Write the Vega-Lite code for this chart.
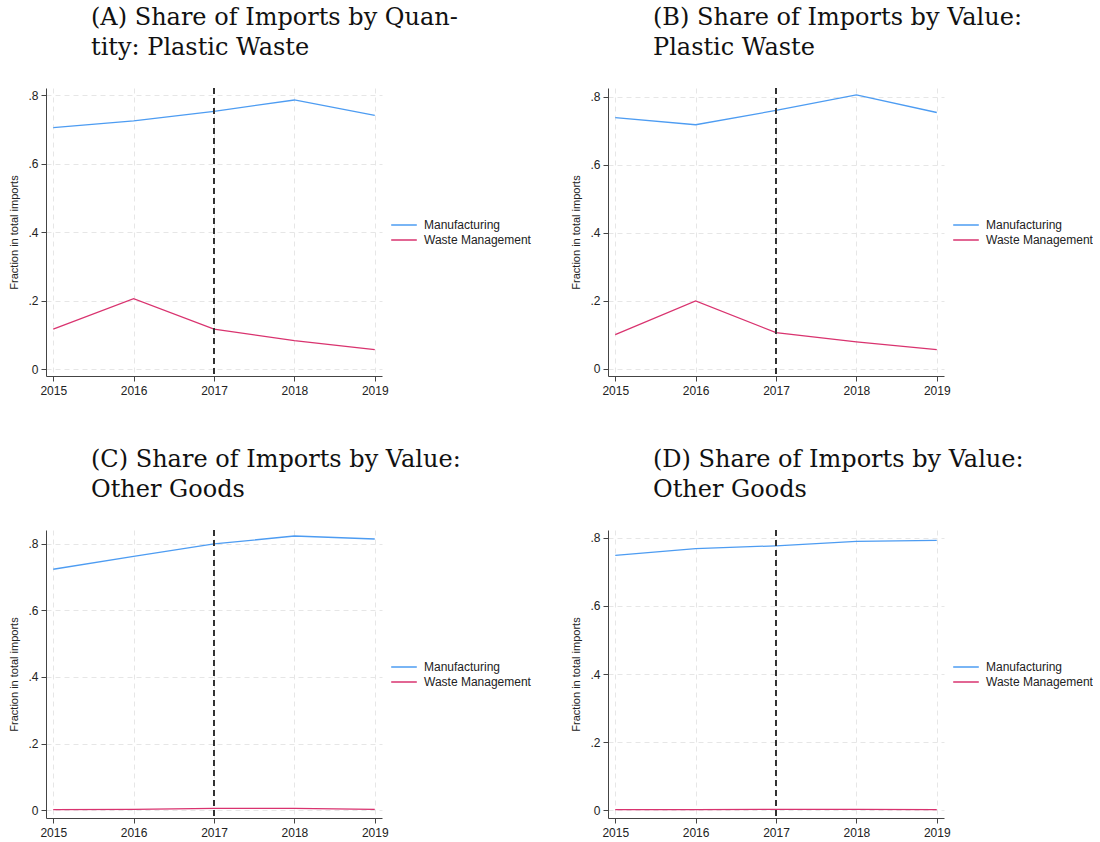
{
  "$schema": "https://vega.github.io/schema/vega-lite/v6.json",
  "background": "white",
  "padding": {"left": 8, "top": 6, "right": 0, "bottom": 0},
  "datasets": {
    "shares": [
      {"panel": "A", "year": 2015, "series": "Manufacturing", "value": 0.705},
      {"panel": "A", "year": 2016, "series": "Manufacturing", "value": 0.725},
      {"panel": "A", "year": 2017, "series": "Manufacturing", "value": 0.753},
      {"panel": "A", "year": 2018, "series": "Manufacturing", "value": 0.786},
      {"panel": "A", "year": 2019, "series": "Manufacturing", "value": 0.741},
      {"panel": "A", "year": 2015, "series": "Waste Management", "value": 0.117},
      {"panel": "A", "year": 2016, "series": "Waste Management", "value": 0.206},
      {"panel": "A", "year": 2017, "series": "Waste Management", "value": 0.117},
      {"panel": "A", "year": 2018, "series": "Waste Management", "value": 0.083},
      {"panel": "A", "year": 2019, "series": "Waste Management", "value": 0.057},
      {"panel": "B", "year": 2015, "series": "Manufacturing", "value": 0.739},
      {"panel": "B", "year": 2016, "series": "Manufacturing", "value": 0.718},
      {"panel": "B", "year": 2017, "series": "Manufacturing", "value": 0.760},
      {"panel": "B", "year": 2018, "series": "Manufacturing", "value": 0.806},
      {"panel": "B", "year": 2019, "series": "Manufacturing", "value": 0.754},
      {"panel": "B", "year": 2015, "series": "Waste Management", "value": 0.101},
      {"panel": "B", "year": 2016, "series": "Waste Management", "value": 0.200},
      {"panel": "B", "year": 2017, "series": "Waste Management", "value": 0.107},
      {"panel": "B", "year": 2018, "series": "Waste Management", "value": 0.080},
      {"panel": "B", "year": 2019, "series": "Waste Management", "value": 0.057},
      {"panel": "C", "year": 2015, "series": "Manufacturing", "value": 0.724},
      {"panel": "C", "year": 2016, "series": "Manufacturing", "value": 0.763},
      {"panel": "C", "year": 2017, "series": "Manufacturing", "value": 0.800},
      {"panel": "C", "year": 2018, "series": "Manufacturing", "value": 0.824},
      {"panel": "C", "year": 2019, "series": "Manufacturing", "value": 0.815},
      {"panel": "C", "year": 2015, "series": "Waste Management", "value": 0.001},
      {"panel": "C", "year": 2016, "series": "Waste Management", "value": 0.002},
      {"panel": "C", "year": 2017, "series": "Waste Management", "value": 0.005},
      {"panel": "C", "year": 2018, "series": "Waste Management", "value": 0.005},
      {"panel": "C", "year": 2019, "series": "Waste Management", "value": 0.002},
      {"panel": "D", "year": 2015, "series": "Manufacturing", "value": 0.749},
      {"panel": "D", "year": 2016, "series": "Manufacturing", "value": 0.769},
      {"panel": "D", "year": 2017, "series": "Manufacturing", "value": 0.777},
      {"panel": "D", "year": 2018, "series": "Manufacturing", "value": 0.790},
      {"panel": "D", "year": 2019, "series": "Manufacturing", "value": 0.793},
      {"panel": "D", "year": 2015, "series": "Waste Management", "value": 0.001},
      {"panel": "D", "year": 2016, "series": "Waste Management", "value": 0.001},
      {"panel": "D", "year": 2017, "series": "Waste Management", "value": 0.002},
      {"panel": "D", "year": 2018, "series": "Waste Management", "value": 0.002},
      {"panel": "D", "year": 2019, "series": "Waste Management", "value": 0.001}
    ]
  },
  "columns": 2,
  "spacing": {"row": 52, "column": 39},
  "resolve": {
    "scale": {"color": "independent", "x": "independent", "y": "independent"},
    "axis": {"x": "independent", "y": "independent"},
    "legend": {"color": "independent"}
  },
  "config": {
    "view": {"stroke": null},
    "font": "Liberation Sans",
    "axis": {
      "grid": true,
      "gridColor": "#e6e6e6",
      "gridDash": [5, 4],
      "domainColor": "#444444",
      "tickColor": "#444444",
      "tickSize": 5,
      "labelFont": "Liberation Sans",
      "labelFontSize": 12,
      "labelColor": "#222222",
      "titleFont": "Liberation Sans",
      "titleFontSize": 11,
      "titleFontWeight": "normal",
      "titleColor": "#222222"
    },
    "axisY": {"labelPadding": 3, "titlePadding": 8},
    "axisX": {"labelPadding": 4},
    "title": {
      "font": "DejaVu Serif",
      "fontSize": 24,
      "fontWeight": "normal",
      "color": "#111111",
      "anchor": "start",
      "frame": "group",
      "dx": 45,
      "offset": 27,
      "lineHeight": 30
    },
    "legend": {
      "symbolType": "M-1.6,0H1.6",
      "symbolSize": 256,
      "symbolStrokeWidth": 1.5,
      "labelFont": "Liberation Sans",
      "labelFontSize": 12,
      "labelColor": "#222222",
      "labelOffset": 11,
      "rowPadding": 0
    }
  },
  "concat": [
    {
      "width": 336, "height": 288,
      "title": {"text": ["(A) Share of Imports by Quan-", "tity: Plastic Waste"]},
      "data": {"name": "shares"},
      "transform": [{"filter": "datum.panel == 'A'"}],
      "layer": [
        {
          "mark": {"type": "line", "strokeWidth": 1.3},
          "encoding": {
            "x": {"field": "year", "type": "quantitative", "scale": {"domain": [2014.91, 2019.09], "nice": false, "zero": false}, "axis": {"values": [2015, 2016, 2017, 2018, 2019], "format": "d", "title": null}},
            "y": {"field": "value", "type": "quantitative", "scale": {"domain": [-0.02, 0.821], "nice": false, "zero": false}, "axis": {"values": [0, 0.2, 0.4, 0.6, 0.8], "labelExpr": "datum.value == 0 ? '0' : replace(format(datum.value, '.1f'), '0.', '.')", "title": "Fraction in total imports"}},
            "color": {"field": "series", "type": "nominal", "scale": {"domain": ["Manufacturing", "Waste Management"], "range": ["#4d9cf2", "#d9336f"]}, "legend": {"orient": "none", "legendX": 349, "legendY": 128, "title": null}}
          }
        },
        {
          "mark": {"type": "rule", "color": "#333333", "strokeDash": [6, 4], "strokeWidth": 1.2},
          "encoding": {"x": {"datum": 2017}}
        }
      ]
    },
    {
      "width": 336, "height": 288,
      "title": {"text": ["(B) Share of Imports by Value:", "Plastic Waste"]},
      "data": {"name": "shares"},
      "transform": [{"filter": "datum.panel == 'B'"}],
      "layer": [
        {
          "mark": {"type": "line", "strokeWidth": 1.3},
          "encoding": {
            "x": {"field": "year", "type": "quantitative", "scale": {"domain": [2014.91, 2019.09], "nice": false, "zero": false}, "axis": {"values": [2015, 2016, 2017, 2018, 2019], "format": "d", "title": null}},
            "y": {"field": "value", "type": "quantitative", "scale": {"domain": [-0.0206, 0.826], "nice": false, "zero": false}, "axis": {"values": [0, 0.2, 0.4, 0.6, 0.8], "labelExpr": "datum.value == 0 ? '0' : replace(format(datum.value, '.1f'), '0.', '.')", "title": "Fraction in total imports"}},
            "color": {"field": "series", "type": "nominal", "scale": {"domain": ["Manufacturing", "Waste Management"], "range": ["#4d9cf2", "#d9336f"]}, "legend": {"orient": "none", "legendX": 349, "legendY": 128, "title": null}}
          }
        },
        {
          "mark": {"type": "rule", "color": "#333333", "strokeDash": [6, 4], "strokeWidth": 1.2},
          "encoding": {"x": {"datum": 2017}}
        }
      ]
    },
    {
      "width": 336, "height": 288,
      "title": {"text": ["(C) Share of Imports by Value:", "Other Goods"]},
      "data": {"name": "shares"},
      "transform": [{"filter": "datum.panel == 'C'"}],
      "layer": [
        {
          "mark": {"type": "line", "strokeWidth": 1.3},
          "encoding": {
            "x": {"field": "year", "type": "quantitative", "scale": {"domain": [2014.91, 2019.09], "nice": false, "zero": false}, "axis": {"values": [2015, 2016, 2017, 2018, 2019], "format": "d", "title": null}},
            "y": {"field": "value", "type": "quantitative", "scale": {"domain": [-0.024, 0.842], "nice": false, "zero": false}, "axis": {"values": [0, 0.2, 0.4, 0.6, 0.8], "labelExpr": "datum.value == 0 ? '0' : replace(format(datum.value, '.1f'), '0.', '.')", "title": "Fraction in total imports"}},
            "color": {"field": "series", "type": "nominal", "scale": {"domain": ["Manufacturing", "Waste Management"], "range": ["#4d9cf2", "#d9336f"]}, "legend": {"orient": "none", "legendX": 349, "legendY": 128, "title": null}}
          }
        },
        {
          "mark": {"type": "rule", "color": "#333333", "strokeDash": [6, 4], "strokeWidth": 1.2},
          "encoding": {"x": {"datum": 2017}}
        }
      ]
    },
    {
      "width": 336, "height": 288,
      "title": {"text": ["(D) Share of Imports by Value:", "Other Goods"]},
      "data": {"name": "shares"},
      "transform": [{"filter": "datum.panel == 'D'"}],
      "layer": [
        {
          "mark": {"type": "line", "strokeWidth": 1.3},
          "encoding": {
            "x": {"field": "year", "type": "quantitative", "scale": {"domain": [2014.91, 2019.09], "nice": false, "zero": false}, "axis": {"values": [2015, 2016, 2017, 2018, 2019], "format": "d", "title": null}},
            "y": {"field": "value", "type": "quantitative", "scale": {"domain": [-0.0235, 0.8235], "nice": false, "zero": false}, "axis": {"values": [0, 0.2, 0.4, 0.6, 0.8], "labelExpr": "datum.value == 0 ? '0' : replace(format(datum.value, '.1f'), '0.', '.')", "title": "Fraction in total imports"}},
            "color": {"field": "series", "type": "nominal", "scale": {"domain": ["Manufacturing", "Waste Management"], "range": ["#4d9cf2", "#d9336f"]}, "legend": {"orient": "none", "legendX": 349, "legendY": 128, "title": null}}
          }
        },
        {
          "mark": {"type": "rule", "color": "#333333", "strokeDash": [6, 4], "strokeWidth": 1.2},
          "encoding": {"x": {"datum": 2017}}
        }
      ]
    }
  ]
}
